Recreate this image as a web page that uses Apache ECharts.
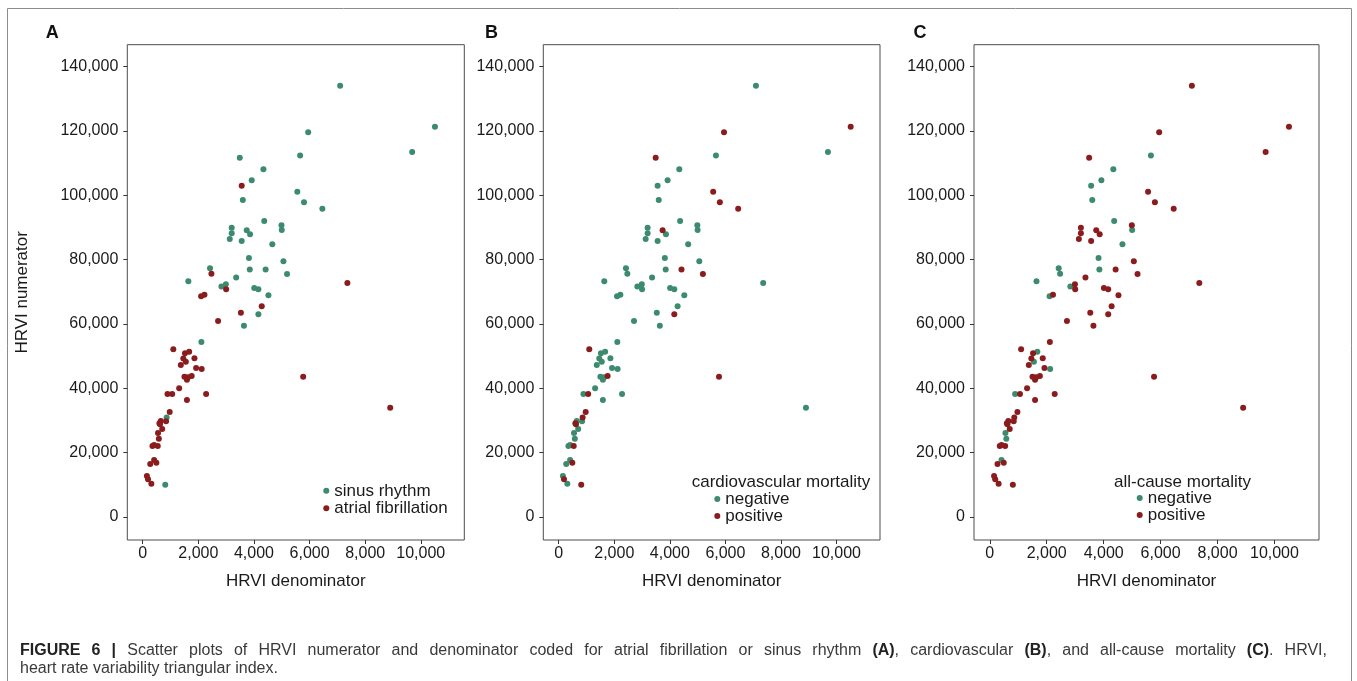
<!DOCTYPE html>
<html>
<head>
<meta charset="utf-8">
<script src="https://cdn.jsdelivr.net/npm/echarts@6/dist/echarts.min.js"></script>
<style>
html,body{margin:0;padding:0;background:#fff;}
#chart{width:1357px;height:681px;}
</style>
</head>
<body>
<div id="chart"></div>
<script>
// ---- data ----
const hrviDenominator = [
  7100,10510,5950,9690,3490,5660,4340,3920,3560,5560,
  5800,3600,6460,4370,4990,5000,3200,3200,3740,3860,
  3130,3560,4660,3820,5060,3850,4420,5190,2420,2470,
  3360,1640,7360,2830,2990,3000,4010,4160,4520,2100,
  2220,3530,4280,4160,2710,3640,2110,1100,1520,1670,
  1460,1860,1550,1370,1920,2120,1500,1630,1760,1590,
  5770,1310,890,1060,2280,1590,8900,970,860,650,
  840,600,620,700,550,580,350,540,410,270,
  410,490,150,190,310,810
];
const hrviNumerator = [
  134100,121300,119600,113500,111700,112400,108100,104700,103000,101100,
  97800,98500,95800,92000,90700,89200,89900,88200,89100,87900,
  86400,85800,84800,80500,79500,76900,76900,75500,77300,75600,
  74400,73300,72700,71600,72300,70800,71200,70800,68900,68600,
  69100,63500,65500,63000,60900,59400,54400,52100,50900,51300,
  49200,49300,48200,47200,46300,46000,43600,43400,43800,42600,
  43600,40000,38200,38200,38200,36300,33900,32600,30900,29800,
  29700,29100,28800,27300,26100,24300,22000,22000,22300,16400,
  17700,16800,12700,11700,10300,10000
];
// 0 = sinus rhythm, 1 = atrial fibrillation
const atrialFibrillation = [
  0,0,0,0,0,0,0,0,1,0,
  0,0,0,0,0,0,0,0,0,0,
  0,0,0,0,0,0,0,0,0,1,
  0,0,1,0,0,1,0,0,0,1,
  1,1,1,0,1,0,0,1,1,1,
  1,1,1,1,1,1,1,1,1,1,
  1,1,1,1,1,1,1,1,0,1,
  1,1,1,1,1,1,1,1,1,1,
  1,1,1,1,1,0
];
// 0 = negative, 1 = positive
const cardiovascularMortality = [
  0,1,1,0,1,0,0,0,0,1,
  1,0,1,0,0,0,0,0,1,0,
  0,0,0,0,0,0,1,1,0,0,
  0,0,0,0,0,0,0,0,0,0,
  0,0,0,1,0,0,0,1,0,0,
  0,0,0,0,0,0,0,0,1,0,
  1,0,0,1,0,0,0,1,1,0,
  0,1,1,0,0,0,0,1,0,0,
  0,1,0,1,0,1
];
const allCauseMortality = [
  1,1,1,1,1,0,0,0,0,1,
  1,0,1,0,1,0,1,1,1,1,
  1,1,0,0,1,0,1,1,0,0,
  1,0,1,0,1,1,1,1,1,0,
  1,1,1,1,1,1,1,1,1,0,
  1,1,0,1,1,0,1,1,1,1,
  1,1,0,1,1,1,1,1,1,1,
  1,1,1,1,0,0,1,1,1,1,
  0,1,1,1,1,1
];
const xTickValues = [0,2000,4000,6000,8000,10000];
const yTickValues = [0,20000,40000,60000,80000,100000,120000,140000];
const panelLetters = ['A','B','C'];
const groupNamesA = ['sinus rhythm','atrial fibrillation'];
const groupNamesBC = ['negative','positive'];
const legendTitles = ['', 'cardiovascular mortality', 'all-cause mortality'];
const xTitle = 'HRVI denominator';
const yTitle = 'HRVI numerator';
const captionLine1 = '**FIGURE 6 |** Scatter plots of HRVI numerator and denominator coded for atrial fibrillation or sinus rhythm **(A)**, cardiovascular **(B)**, and all-cause mortality **(C)**. HRVI,';
const captionLine2 = 'heart rate variability triangular index.';

// ---- styling / layout ----
const FONT = "'Liberation Sans', Arial, Helvetica, sans-serif";
const GREEN = '#3d8b6f';
const RED = '#8b1c1e';
const TXT = '#1a1a1a';
const panels = [
  {left:127.3, width:337.0, codes:atrialFibrillation, names:groupNamesA},
  {left:543.3, width:336.7, codes:cardiovascularMortality, names:groupNamesBC},
  {left:974.0, width:345.0, codes:allCauseMortality, names:groupNamesBC}
];
const GRID_TOP = 44.7, GRID_H = 495.3;
const X_MIN = -555, X_MAX = 11565, Y_MIN = -7216, Y_MAX = 146843;

function fmt(v){ return String(v).replace(/\B(?=(\d{3})+(?!\d))/g, ','); }

const grid = [], xAxis = [], yAxis = [], series = [];
panels.forEach((p, i) => {
  grid.push({left:p.left, top:GRID_TOP, width:p.width, height:GRID_H,
    show:true, borderColor:'#4d4d4d', borderWidth:1, backgroundColor:'transparent', containLabel:false});
  xAxis.push({
    type:'value', gridIndex:i, min:X_MIN, max:X_MAX, position:'bottom',
    name:xTitle, nameLocation:'middle', nameGap:33,
    nameTextStyle:{fontFamily:FONT, fontSize:17, color:TXT},
    axisLine:{show:false, onZero:false}, splitLine:{show:false},
    axisTick:{show:true, inside:false, length:4, lineStyle:{color:'#333', width:1}, customValues:xTickValues},
    axisLabel:{show:true, margin:6, fontFamily:FONT, fontSize:16, color:TXT, customValues:xTickValues, formatter:fmt}
  });
  yAxis.push({
    type:'value', gridIndex:i, min:Y_MIN, max:Y_MAX, position:'left',
    name: i === 0 ? yTitle : '', nameLocation:'middle', nameGap:96,
    nameTextStyle:{fontFamily:FONT, fontSize:17, color:TXT},
    axisLine:{show:false, onZero:false}, splitLine:{show:false},
    axisTick:{show:true, inside:false, length:4, lineStyle:{color:'#333', width:1}, customValues:yTickValues},
    axisLabel:{show:true, margin:9, fontFamily:FONT, fontSize:16, color:TXT, customValues:yTickValues, formatter:fmt}
  });
  [0,1].forEach(code => {
    const data = [];
    for (let k = 0; k < hrviDenominator.length; k++) {
      if (p.codes[k] === code) data.push([hrviDenominator[k], hrviNumerator[k]]);
    }
    series.push({
      type:'scatter', name:p.names[code], xAxisIndex:i, yAxisIndex:i,
      data:data, symbol:'circle', symbolSize:6,
      itemStyle:{color: code === 0 ? GREEN : RED, opacity:1},
      emphasis:{disabled:true}, silent:true
    });
  });
});

const legendBase = {orient:'vertical', icon:'circle', itemWidth:6, itemHeight:6, itemGap:0,
  padding:0, selectedMode:false, textStyle:{fontFamily:FONT, fontSize:17, color:TXT}};
const legend = [
  Object.assign({}, legendBase, {left:323.3, top:482.2, data:groupNamesA, textStyle:Object.assign({}, legendBase.textStyle, {lineHeight:17.3})}),
  Object.assign({}, legendBase, {left:714.3, top:490.5, data:groupNamesBC, textStyle:Object.assign({}, legendBase.textStyle, {lineHeight:16.3})}),
  Object.assign({}, legendBase, {left:1136.7, top:489.4, data:groupNamesBC, textStyle:Object.assign({}, legendBase.textStyle, {lineHeight:16.6})})
];

const letterX = [45.7, 485, 913.5];
const graphic = [
  {type:'rect', shape:{x:7.5, y:8.5, width:1344, height:720}, style:{fill:'none', stroke:'#8c8c8c', lineWidth:1}, silent:true}
];
panelLetters.forEach((L, i) => {
  graphic.push({type:'text', left:letterX[i], top:24, style:{text:L, font:"bold 18px " + FONT, fill:'#111'}, silent:true});
});
graphic.push({type:'text', left:691.7, top:474, style:{text:legendTitles[1], font:"17px " + FONT, fill:TXT}, silent:true});
graphic.push({type:'text', left:1114, top:473.5, style:{text:legendTitles[2], font:"17px " + FONT, fill:TXT}, silent:true});

// caption: justified first line, left-aligned last line
const CAP_SIZE = 16, CAP_LEFT = 20, CAP_RIGHT = 1327;
const measureCtx = document.createElement('canvas').getContext('2d');
function capFont(bold){ return (bold ? 'bold ' : '') + CAP_SIZE + 'px ' + FONT; }
function measure(t, bold){ measureCtx.font = capFont(bold); return measureCtx.measureText(t).width; }
function parseWords(str){
  let bold = false; const words = [];
  str.split(' ').forEach(w => {
    const segs = []; let cur = '';
    for (let i = 0; i < w.length; i++) {
      if (w[i] === '*' && w[i+1] === '*') { if (cur) segs.push({t:cur, b:bold}); cur = ''; bold = !bold; i++; }
      else cur += w[i];
    }
    if (cur) segs.push({t:cur, b:bold});
    words.push(segs);
  });
  return words;
}
function layoutLine(str, y, justify){
  const words = parseWords(str);
  const widths = words.map(ws => ws.reduce((s, g) => s + measure(g.t, g.b), 0));
  const sp = measure(' ', false);
  const total = widths.reduce((a, b) => a + b, 0) + sp * (words.length - 1);
  const extra = justify ? Math.max(0, (CAP_RIGHT - CAP_LEFT - total) / (words.length - 1)) : 0;
  let x = CAP_LEFT;
  words.forEach((ws, i) => {
    let xx = x;
    ws.forEach(g => {
      graphic.push({type:'text', x:xx, y:y, silent:true,
        style:{text:g.t, font:capFont(g.b), fill: g.b ? '#222' : '#3a3a3a', verticalAlign:'middle', align:'left'}});
      xx += measure(g.t, g.b);
    });
    x += widths[i] + sp + extra;
  });
}
layoutLine(captionLine1, 651, true);
layoutLine(captionLine2, 669, false);

const chart = echarts.init(document.getElementById('chart'), null, {renderer:'canvas'});
chart.setOption({
  animation:false, backgroundColor:'#fff',
  grid, xAxis, yAxis, series, legend, graphic
});
</script>
</body>
</html>
